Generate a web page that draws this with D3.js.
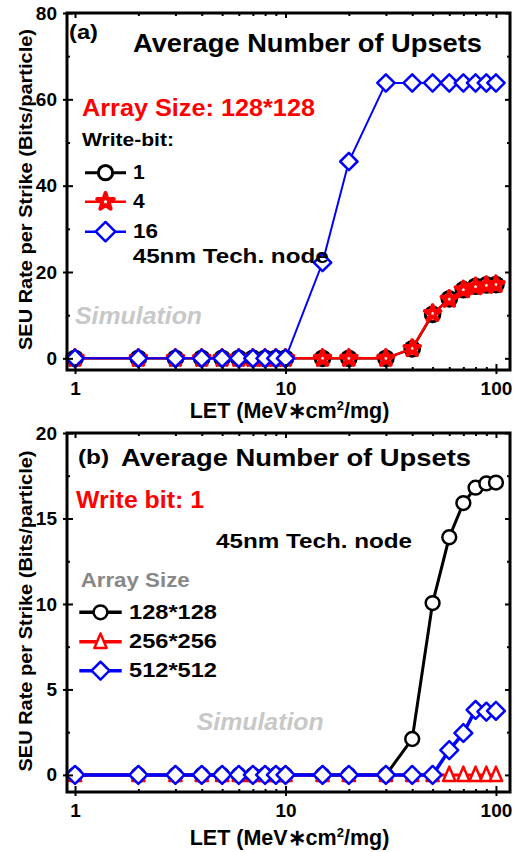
<!DOCTYPE html>
<html>
<head>
<meta charset="utf-8">
<script src="https://cdn.jsdelivr.net/npm/d3@7"></script>
<style>
  html, body { margin: 0; padding: 0; background: #fff; }
  svg { display: block; font-family: "Liberation Sans", Arial, sans-serif; font-weight: bold; }
</style>
</head>
<body>
<svg id="chart" width="515" height="852"></svg>
<script>
// LET values (MeV*cm^2/mg) shared by both panels
const letValues = [1, 2, 3, 4, 5, 6, 7, 8, 9, 10, 15, 20, 30, 40, 50, 60, 70, 80, 90, 100];

// Panel (a): array 128*128, different write-bit widths
const writeBit1  = [0, 0, 0, 0, 0, 0, 0, 0, 0, 0, 0, 0, 0, 2.2, 10.2, 13.8, 15.9, 16.7, 17.0, 17.1];
const writeBit4  = [0, 0, 0, 0, 0, 0, 0, 0, 0, 0, 0, 0, 0, 2.3, 10.4, 13.7, 15.9, 16.6, 16.9, 17.1];
const writeBit16 = [0, 0, 0, 0, 0, 0, 0, 0, 0, 0, 22.2, 45.6, 63.8, 63.8, 63.8, 63.8, 63.8, 63.8, 63.8, 63.8];

// Panel (b): write bit 1, different array sizes
const size128 = [0, 0, 0, 0, 0, 0, 0, 0, 0, 0, 0, 0, 0, 2.1, 10.05, 13.9, 15.9, 16.8, 17.05, 17.1];
const size256 = [0, 0, 0, 0, 0, 0, 0, 0, 0, 0, 0, 0, 0, 0, 0, 0, 0, 0, 0, 0];
const size512 = [0, 0, 0, 0, 0, 0, 0, 0, 0, 0, 0, 0, 0, 0, 0, 1.45, 2.45, 3.8, 3.7, 3.75];

// Tick values
const xMajorTicks = [1, 10, 100];
const xMinorTicks = [2, 3, 4, 5, 6, 7, 8, 9, 20, 30, 40, 50, 60, 70, 80, 90];
const yMajorTicksA = [0, 20, 40, 60, 80];
const yMinorTicksA = [10, 30, 50, 70];
const yMajorTicksB = [0, 5, 10, 15, 20];
const yMinorTicksB = [2.5, 7.5, 12.5, 17.5];

const svg = d3.select("#chart");

// open diamond = square turned by 45 degrees; tall open triangle
const diamondType = {
  draw(ctx, size) {
    const h = Math.sqrt(size) / Math.SQRT2;
    ctx.moveTo(0, -h); ctx.lineTo(h, 0); ctx.lineTo(0, h); ctx.lineTo(-h, 0); ctx.closePath();
  }
};
const tallTriangleType = {
  draw(ctx, size) {
    const w = Math.sqrt(size) / 2, h = w * 1.35;
    ctx.moveTo(0, -h); ctx.lineTo(w, h * 0.75); ctx.lineTo(-w, h * 0.75); ctx.closePath();
  }
};

const L = 67, R = 510;

function makeX() {
  return d3.scaleLog().domain([0.916, 116.6]).range([L, R]);
}

function addText(g, s, x, y, size, opts = {}) {
  const t = g.append("text")
    .attr("x", x).attr("y", y)
    .attr("font-size", size)
    .attr("fill", opts.fill || "#000")
    .text(s);
  if (opts.italic) t.attr("font-style", "italic");
  if (opts.width) t.attr("textLength", opts.width).attr("lengthAdjust", "spacingAndGlyphs");
  if (opts.anchor) t.attr("text-anchor", opts.anchor);
  return t;
}

function drawAxes(g, x, y, top, bottom, yMajor, yMinor, tickFont) {
  const strip = sel => { sel.select(".domain").remove(); sel.selectAll("line").attr("stroke-width", 2); };
  const labelStyle = s => s.selectAll("text").attr("font-size", tickFont)
    .attr("font-family", "Liberation Sans, Arial").attr("font-weight", "bold").attr("fill", "#000");
  // left: outward part with labels, inward parts for major and minor ticks
  g.append("g").attr("transform", `translate(${L},0)`)
    .call(d3.axisLeft(y).tickValues(yMajor).tickSize(4).tickPadding(6).tickFormat(d3.format("d")))
    .call(strip).call(labelStyle);
  g.append("g").attr("transform", `translate(${L},0)`)
    .call(d3.axisLeft(y).tickValues(yMajor).tickSize(-6).tickFormat("")).call(strip);
  g.append("g").attr("transform", `translate(${L},0)`)
    .call(d3.axisLeft(y).tickValues(yMinor).tickSize(-3).tickFormat("")).call(strip);
  // right mirror
  g.append("g").attr("transform", `translate(${R},0)`)
    .call(d3.axisRight(y).tickValues(yMajor).tickSize(-5).tickFormat("")).call(strip);
  g.append("g").attr("transform", `translate(${R},0)`)
    .call(d3.axisRight(y).tickValues(yMinor).tickSize(-3).tickFormat("")).call(strip);
  // bottom
  g.append("g").attr("transform", `translate(0,${bottom})`)
    .call(d3.axisBottom(x).tickValues(xMajorTicks).tickSize(4).tickPadding(8).tickFormat(d3.format("d")))
    .call(strip).call(labelStyle);
  g.append("g").attr("transform", `translate(0,${bottom})`)
    .call(d3.axisBottom(x).tickValues(xMajorTicks).tickSize(-6).tickFormat("")).call(strip);
  g.append("g").attr("transform", `translate(0,${bottom})`)
    .call(d3.axisBottom(x).tickValues(xMinorTicks).tickSize(-3).tickFormat("")).call(strip);
  // top mirror
  g.append("g").attr("transform", `translate(0,${top})`)
    .call(d3.axisTop(x).tickValues(xMajorTicks).tickSize(-5).tickFormat("")).call(strip);
  g.append("g").attr("transform", `translate(0,${top})`)
    .call(d3.axisTop(x).tickValues(xMinorTicks).tickSize(-3).tickFormat("")).call(strip);
  // frame
  g.append("rect").attr("x", L).attr("y", top).attr("width", R - L).attr("height", bottom - top)
    .attr("fill", "none").attr("stroke", "#000").attr("stroke-width", 3);
}

function drawSeries(g, x, y, values, s) {
  const pts = letValues.map((v, i) => [v, values[i]]);
  g.append("path").datum(pts)
    .attr("fill", "none").attr("stroke", s.color).attr("stroke-width", s.lineWidth)
    .attr("d", d3.line().x(d => x(d[0])).y(d => y(d[1])));
  g.selectAll(null).data(pts).enter().append("path")
    .attr("transform", d => `translate(${x(d[0])},${y(d[1])})`)
    .attr("d", d3.symbol().type(s.type).size(s.size))
    .attr("fill", "#fff").attr("stroke", s.color).attr("stroke-width", s.markerWidth)
    .attr("stroke-linejoin", "round");
}

function legendRow(g, x0, x1, yRow, label, s, textX, fontSize, width) {
  g.append("line").attr("x1", x0).attr("x2", x1).attr("y1", yRow).attr("y2", yRow)
    .attr("stroke", s.color).attr("stroke-width", s.legendLine);
  g.append("path").attr("transform", `translate(${(x0 + x1) / 2},${yRow})`)
    .attr("d", d3.symbol().type(s.type).size(s.legendSize || s.size))
    .attr("fill", "#fff").attr("stroke", s.color).attr("stroke-width", s.markerWidth)
    .attr("stroke-linejoin", "round");
  addText(g, label, textX, yRow + 6.5, fontSize, width ? { width } : {});
}

function axisTitles(g, yCenter, xBaseline) {
  g.append("text")
    .attr("transform", `translate(32,${yCenter}) rotate(-90)`)
    .attr("text-anchor", "middle").attr("font-size", 18.5)
    .attr("textLength", 321).attr("lengthAdjust", "spacingAndGlyphs")
    .text("SEU Rate per Strike (Bits/particle)");
  const t = g.append("text").attr("x", 289.5).attr("y", xBaseline)
    .attr("text-anchor", "middle").attr("font-size", 21.5);
  t.append("tspan").text("LET (MeV\u2217cm");
  t.append("tspan").attr("font-size", 13).attr("dy", -8).text("2");
  t.append("tspan").attr("dy", 8).text("/mg)");
}

// ---------- Panel (a) ----------
{
  const top = 13, bottom = 370;
  const x = makeX();
  const y = d3.scaleLinear().domain([-2.7, 80]).range([bottom, top]);
  const g = svg.append("g");

  const sOne  = { color: "#000", lineWidth: 2.5, markerWidth: 3, type: d3.symbolCircle, size: 170, legendSize: 160, legendLine: 3 };
  const sFour = { color: "#ff0000", lineWidth: 2.5, markerWidth: 4, type: d3.symbolStar, size: 75, legendSize: 85, legendLine: 2.5 };
  const sSix  = { color: "#0000ff", lineWidth: 2, markerWidth: 2.5, type: diamondType, size: 150, legendSize: 190, legendLine: 2.5 };

  drawSeries(g, x, y, writeBit1, sOne);
  drawSeries(g, x, y, writeBit4, sFour);
  drawSeries(g, x, y, writeBit16, sSix);
  drawAxes(g, x, y, top, bottom, yMajorTicksA, yMinorTicksA, 19);

  addText(g, "(a)", 69, 39, 20, { width: 29 });
  addText(g, "Average Number of Upsets", 133, 51.5, 25, { width: 349 });
  addText(g, "Array Size: 128*128", 82, 116, 23, { fill: "#ff0000", width: 233 });
  addText(g, "Write-bit:", 82, 145.5, 19, { width: 92 });
  legendRow(g, 85, 126, 172.7, "1", sOne, 133, 21);
  legendRow(g, 85, 126, 201.7, "4", sFour, 133, 21);
  legendRow(g, 85, 126, 231.7, "16", sSix, 133, 21, 25);
  addText(g, "45nm Tech. node", 132.7, 263.3, 21, { width: 196 });
  addText(g, "Simulation", 75, 324, 23, { fill: "#c8c8c8", italic: true, width: 127 });
  axisTitles(g, 189.5, 418.3);
}

// ---------- Panel (b) ----------
{
  const top = 433, bottom = 792;
  const x = makeX();
  const y = d3.scaleLinear().domain([-1, 20]).range([bottom, top]);
  const g = svg.append("g");

  const s128 = { color: "#000", lineWidth: 3, markerWidth: 2.5, type: d3.symbolCircle, size: 150, legendLine: 3.5 };
  const s256 = { color: "#ff0000", lineWidth: 3, markerWidth: 2.5, type: tallTriangleType, size: 150, legendLine: 3.5 };
  const s512 = { color: "#0000ff", lineWidth: 3.5, markerWidth: 2.5, type: diamondType, size: 160, legendLine: 3.5 };

  drawSeries(g, x, y, size128, s128);
  drawSeries(g, x, y, size256, s256);
  drawSeries(g, x, y, size512, s512);
  drawAxes(g, x, y, top, bottom, yMajorTicksB, yMinorTicksB, 19);

  addText(g, "(b)", 78, 463.5, 20, { width: 31 });
  addText(g, "Average Number of Upsets", 121, 466, 24.5, { width: 350 });
  addText(g, "Write bit: 1", 76, 508.3, 24.5, { fill: "#ff0000", width: 128 });
  addText(g, "45nm Tech. node", 216, 548.3, 21, { width: 196 });
  addText(g, "Array Size", 80.7, 587.3, 20, { fill: "#888888", width: 109 });
  legendRow(g, 79.3, 121.7, 612.3, "128*128", s128, 129, 21, 88);
  legendRow(g, 79.3, 121.7, 641.7, "256*256", s256, 129, 21, 88);
  legendRow(g, 79.3, 121.7, 670.7, "512*512", s512, 129, 21, 88);
  addText(g, "Simulation", 196.7, 730, 23, { fill: "#c8c8c8", italic: true, width: 127 });
  axisTitles(g, 611, 845);
}
</script>
</body>
</html>
